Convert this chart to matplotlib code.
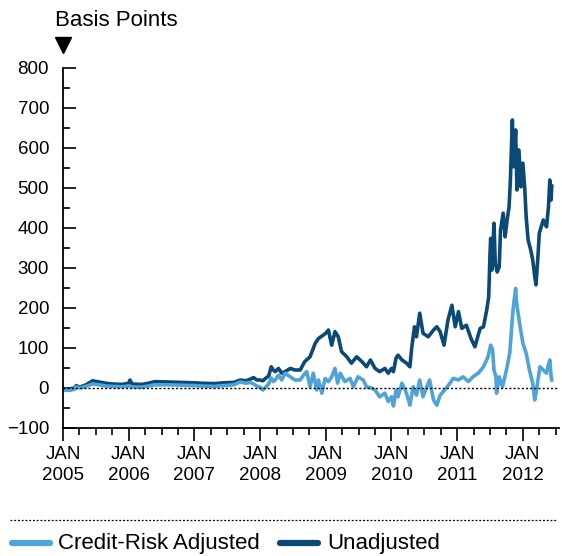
import numpy as np
import matplotlib
matplotlib.use("Agg")
import matplotlib.pyplot as plt
from matplotlib.lines import Line2D
from matplotlib.ticker import MultipleLocator, FixedLocator

plt.rcParams['font.family'] = ['Liberation Sans', 'DejaVu Sans']

# dates as decimal years, spreads in basis points
unadj_t = [2005.00, 2005.10, 2005.18, 2005.20, 2005.25, 2005.35, 2005.45, 2005.55, 2005.65,
           2005.75, 2005.90, 2006.00, 2006.02, 2006.05, 2006.20, 2006.30, 2006.40, 2006.60,
           2006.80, 2007.00, 2007.10, 2007.30, 2007.45, 2007.60, 2007.70, 2007.78, 2007.85,
           2007.90, 2007.95, 2008.00, 2008.04, 2008.09, 2008.13, 2008.17, 2008.20, 2008.23,
           2008.28, 2008.33, 2008.38, 2008.46, 2008.53, 2008.61, 2008.68, 2008.76, 2008.84,
           2008.89, 2008.96, 2009.00, 2009.04, 2009.09, 2009.14, 2009.19, 2009.24, 2009.32,
           2009.39, 2009.47, 2009.55, 2009.62, 2009.68, 2009.75, 2009.82, 2009.90, 2009.95,
           2010.00, 2010.03, 2010.07, 2010.10, 2010.16, 2010.23, 2010.28, 2010.31, 2010.35,
           2010.38, 2010.43, 2010.48, 2010.56, 2010.64, 2010.69, 2010.74, 2010.80, 2010.86,
           2010.92, 2010.97, 2011.02, 2011.07, 2011.14, 2011.21, 2011.27, 2011.35, 2011.40,
           2011.45, 2011.48, 2011.50, 2011.51, 2011.53, 2011.56, 2011.58, 2011.61, 2011.64,
           2011.66, 2011.70, 2011.73, 2011.76, 2011.79, 2011.81, 2011.84, 2011.86, 2011.89,
           2011.91, 2011.94, 2011.97, 2012.00, 2012.03, 2012.05, 2012.08, 2012.12, 2012.15,
           2012.18, 2012.20, 2012.23, 2012.25, 2012.31, 2012.36, 2012.39, 2012.41, 2012.43,
           2012.44]
unadj_v = [-3, -2, 0, 6, 2, 8, 18, 15, 12,
           10, 9, 12, 20, 10, 9, 12, 16, 15,
           14, 13, 12, 11, 13, 14, 20, 18, 22,
           26, 20, 20, 18, 25, 30, 53, 45, 41,
           49, 37, 41, 49, 45, 45, 66, 78, 112,
           124, 132, 137, 145, 107, 141, 128, 91, 78,
           62, 78, 66, 53, 70, 49, 41, 49, 37,
           49, 41, 75, 82, 70, 62, 53, 103, 153,
           128, 187, 137, 128, 145, 153, 141, 107, 170,
           207, 153, 191, 149, 157, 124, 103, 149, 153,
           195, 228, 337, 374, 295, 412, 312, 290, 303,
           395, 437, 378, 420, 453, 520, 670, 553, 645,
           495, 595, 503, 562, 495, 428, 370, 345, 320,
           280, 258, 330, 387, 420, 403, 453, 520, 470,
           505]

adj_t = [2005.00, 2005.10, 2005.18, 2005.20, 2005.25, 2005.35, 2005.45, 2005.55, 2005.65,
         2005.75, 2005.90, 2006.00, 2006.05, 2006.20, 2006.30, 2006.40, 2006.60, 2006.80,
         2007.00, 2007.10, 2007.30, 2007.45, 2007.60, 2007.70, 2007.78, 2007.85, 2007.90,
         2007.95, 2008.00, 2008.04, 2008.09, 2008.13, 2008.17, 2008.20, 2008.23, 2008.28,
         2008.33, 2008.38, 2008.46, 2008.53, 2008.61, 2008.66, 2008.71, 2008.76, 2008.81,
         2008.86, 2008.89, 2008.94, 2008.99, 2009.04, 2009.09, 2009.14, 2009.18, 2009.22,
         2009.29, 2009.37, 2009.42, 2009.49, 2009.57, 2009.62, 2009.70, 2009.75, 2009.82,
         2009.90, 2009.95, 2010.00, 2010.03, 2010.07, 2010.10, 2010.16, 2010.21, 2010.26,
         2010.28, 2010.33, 2010.38, 2010.43, 2010.48, 2010.53, 2010.58, 2010.64, 2010.69,
         2010.74, 2010.81, 2010.89, 2010.94, 2011.02, 2011.09, 2011.17, 2011.24, 2011.32,
         2011.40, 2011.47, 2011.51, 2011.54, 2011.56, 2011.59, 2011.60, 2011.64, 2011.69,
         2011.75, 2011.80, 2011.85, 2011.89, 2011.90, 2011.92, 2011.95, 2012.00, 2012.05,
         2012.10, 2012.15, 2012.18, 2012.20, 2012.26, 2012.31, 2012.36, 2012.38, 2012.41,
         2012.43, 2012.44]
adj_v = [-5, -6, -3, 3, 0, 4, 10, 8, 5,
         4, 3, 5, 3, 2, 5, 8, 8, 7,
         6, 5, 4, 6, 8, 15, 12, 14, 10,
         5, 2, -5, 3, 10, 25, 16, 20, 32,
         20, 37, 28, 20, 20, 32, 41, 3, 37,
         -5, 20, -13, 24, 16, 28, 49, 12, 37,
         16, 24, 3, 28, 20, 3, 0, -5, -22,
         -13, -34, -22, -45, -5, -22, 12, -5, -30,
         -43, 3, -18, 20, -22, 0, 20, -30, -43,
         -18, -5, 12, 24, 20, 28, 16, 28, 37,
         53, 78, 107, 95, 45, 28, -13, 28, 3,
         45, 87, 195, 249, 220, 195, 162, 112, 87,
         45, 12, -30, -13, 53, 45, 37, 53, 70,
         28, 20]

years = list(range(2005, 2013))
year_labels = ["JAN\n%d" % y for y in years]

dark = "#0b4a76"
light = "#4fa3d6"

fig = plt.figure(figsize=(5.62, 5.56), dpi=100)
ax = fig.add_axes([63 / 562, 1 - 428 / 556, (559 - 63) / 562, 360 / 556])

ax.plot(unadj_t, unadj_v, color=dark, lw=2.6, solid_joinstyle='round')
ax.plot(adj_t, adj_v, color=light, lw=2.6, solid_joinstyle='round')
ax.axhline(0, color='black', lw=1, ls=(0, (1.5, 1.5)), zorder=3)

ax.set_xlim(2005, 2012.55)
ax.set_ylim(-100, 800)

ax.spines['top'].set_visible(False)
ax.spines['right'].set_visible(False)
ax.spines['left'].set_linewidth(1.3)
ax.spines['bottom'].set_linewidth(1.3)

ax.yaxis.set_major_locator(MultipleLocator(100))
ax.yaxis.set_minor_locator(MultipleLocator(50))
ax.tick_params(axis='y', which='major', direction='in', length=9, width=1.2,
               labelsize=13.5, pad=10)
ax.tick_params(axis='y', which='minor', direction='in', length=5, width=1.2)

ax.set_xticks(years)
ax.set_xticklabels(year_labels, linespacing=1.3)
ax.xaxis.set_minor_locator(FixedLocator(np.arange(2005, 2012.6, 0.25)))
ax.tick_params(axis='x', which='major', direction='out', length=9, width=1.2,
               labelsize=13.5, pad=4)
ax.tick_params(axis='x', which='minor', direction='out', length=5, width=1.2)

# unit label and marker above the y axis
fig.text(55 / 562, 1 - 20 / 556, "Basis Points", fontsize=16, va='center', ha='left')
ax.plot([2005], [1.064], marker='v', ms=11, color='black',
        transform=ax.get_xaxis_transform(), clip_on=False)

# legend under a dotted rule
fig.add_artist(Line2D([10 / 562, 557 / 562], [1 - 520 / 556] * 2, color='black',
                      lw=0.9, ls=(0, (1.5, 1.5))))
ly = 1 - 543 / 556
fig.add_artist(Line2D([12 / 562, 50 / 562], [ly, ly], color=light, lw=4.5,
                      solid_capstyle='round'))
fig.text(58 / 562, ly, "Credit-Risk Adjusted", fontsize=16, va='center', ha='left')
fig.add_artist(Line2D([280 / 562, 318 / 562], [ly, ly], color=dark, lw=4.5,
                      solid_capstyle='round'))
fig.text(327 / 562, ly, "Unadjusted", fontsize=16, va='center', ha='left')

fig.savefig("out.png", dpi=100)
